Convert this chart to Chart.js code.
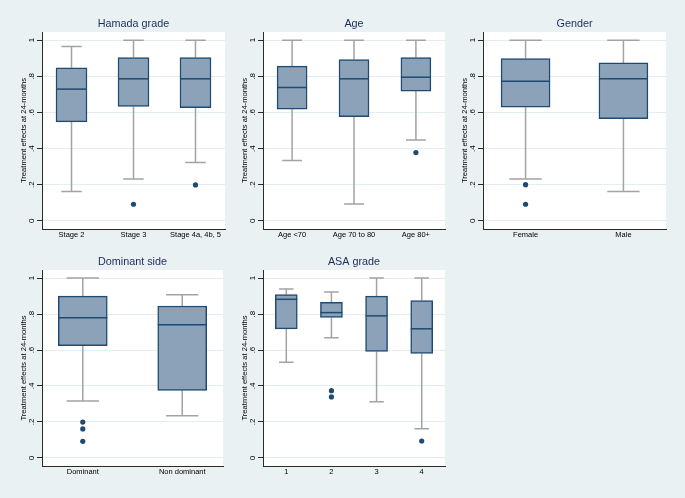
<!DOCTYPE html>
<html>
<head>
<meta charset="utf-8">
<title>Treatment effects box plots</title>
<script src="https://cdn.jsdelivr.net/npm/chart.js@4/dist/chart.umd.min.js"></script>
<style>
  html, body { margin: 0; padding: 0; }
  body { width: 685px; height: 498px; background: #eaf1f3; position: relative; overflow: hidden; }
  .panel { position: absolute; }
</style>
</head>
<body>
<script>
// Hamada grade
var hamadaLabels = ['Stage 2', 'Stage 3', 'Stage 4a, 4b, 5'];
var hamadaLow  = [0.162, 0.232, 0.323];
var hamadaQ1   = [0.548, 0.633, 0.627];
var hamadaMed  = [0.729, 0.786, 0.786];
var hamadaQ3   = [0.847, 0.904, 0.904];
var hamadaHigh = [0.965, 1.0, 1.0];
var hamadaOut  = [[], [0.092], [0.199]];

// Age
var ageLabels = ['Age <70', 'Age 70 to 80', 'Age 80+'];
var ageLow  = [0.334, 0.094, 0.447];
var ageQ1   = [0.618, 0.576, 0.718];
var ageMed  = [0.738, 0.786, 0.795];
var ageQ3   = [0.856, 0.893, 0.904];
var ageHigh = [1.0, 1.0, 1.0];
var ageOut  = [[], [], [0.378]];

// Gender
var genderLabels = ['Female', 'Male'];
var genderLow  = [0.232, 0.162];
var genderQ1   = [0.629, 0.566];
var genderMed  = [0.773, 0.786];
var genderQ3   = [0.898, 0.874];
var genderHigh = [1.0, 1.0];
var genderOut  = [[0.2, 0.092], []];

// Dominant side
var sideLabels = ['Dominant', 'Non dominant'];
var sideLow  = [0.317, 0.234];
var sideQ1   = [0.624, 0.376];
var sideMed  = [0.779, 0.740];
var sideQ3   = [0.900, 0.845];
var sideHigh = [1.0, 0.908];
var sideOut  = [[0.199, 0.161, 0.092], []];

// ASA grade
var asaLabels = ['1', '2', '3', '4'];
var asaLow  = [0.532, 0.668, 0.312, 0.162];
var asaQ1   = [0.718, 0.781, 0.592, 0.581];
var asaMed  = [0.882, 0.808, 0.790, 0.718];
var asaQ3   = [0.908, 0.865, 0.900, 0.875];
var asaHigh = [0.939, 0.923, 1.0, 1.0];
var asaOut  = [[], [0.374, 0.339], [], [0.094]];

var yTicks = [0, 0.2, 0.4, 0.6, 0.8, 1];
var yTickText = ['0', '.2', '.4', '.6', '.8', '1'];
var yTitle = 'Treatment effects at 24-months';

var NAVY = '#1f4a72';
var BOX = '#8ba2b9';
var WHISK = '#a3a3a3';
var GRID = '#e4edf0';
var AXIS = '#2a2a2a';
var TITLE = '#1d2c5b';
var FONT = '"Liberation Sans", Arial, sans-serif';

var AXW = 42;   // space left of plot area
var TOP = 32;   // space above plot area
var XH = 14;    // space below plot area

var panels = [
  {title: 'Hamada grade', labels: hamadaLabels, low: hamadaLow, q1: hamadaQ1, med: hamadaMed, q3: hamadaQ3, high: hamadaHigh, out: hamadaOut,
   l: 42, t: 32, r: 225, b: 229, off: 0.476, bw: 31},
  {title: 'Age', labels: ageLabels, low: ageLow, q1: ageQ1, med: ageMed, q3: ageQ3, high: ageHigh, out: ageOut,
   l: 263, t: 32, r: 445, b: 229, off: 0.47, bw: 30},
  {title: 'Gender', labels: genderLabels, low: genderLow, q1: genderQ1, med: genderMed, q3: genderQ3, high: genderHigh, out: genderOut,
   l: 483, t: 32, r: 666, b: 229, off: 0.435, bw: 49},
  {title: 'Dominant side', labels: sideLabels, low: sideLow, q1: sideQ1, med: sideMed, q3: sideQ3, high: sideHigh, out: sideOut,
   l: 42, t: 270, r: 223, b: 466, off: 0.41, bw: 49},
  {title: 'ASA grade', labels: asaLabels, low: asaLow, q1: asaQ1, med: asaMed, q3: asaQ3, high: asaHigh, out: asaOut,
   l: 263, t: 270, r: 445, b: 466, off: 0.516, bw: 22}
];

// whiskers, caps, medians, titles and rotated y labels
var boxPlugin = {
  id: 'boxParts',
  beforeDraw: function(chart) {
    var a = chart.chartArea, ctx = chart.ctx;
    ctx.save();
    ctx.fillStyle = '#ffffff';
    ctx.fillRect(a.left, a.top, a.right - a.left, a.bottom - a.top);
    ctx.restore();
  },
  beforeDatasetsDraw: function(chart) {
    var p = chart.options.plugins.boxParts.panel;
    var xs = chart.scales.x, ys = chart.scales.y, ctx = chart.ctx;
    var cap = p.bw * 0.66;
    ctx.save();
    ctx.strokeStyle = WHISK;
    ctx.lineWidth = 1.5;
    for (var i = 0; i < p.labels.length; i++) {
      var x = xs.getPixelForValue(i + 1);
      ctx.beginPath();
      ctx.moveTo(x, ys.getPixelForValue(p.high[i]));
      ctx.lineTo(x, ys.getPixelForValue(p.q3[i]));
      ctx.moveTo(x, ys.getPixelForValue(p.q1[i]));
      ctx.lineTo(x, ys.getPixelForValue(p.low[i]));
      ctx.moveTo(x - cap / 2, ys.getPixelForValue(p.high[i]));
      ctx.lineTo(x + cap / 2, ys.getPixelForValue(p.high[i]));
      ctx.moveTo(x - cap / 2, ys.getPixelForValue(p.low[i]));
      ctx.lineTo(x + cap / 2, ys.getPixelForValue(p.low[i]));
      ctx.stroke();
    }
    ctx.restore();
  },
  afterDatasetsDraw: function(chart) {
    var p = chart.options.plugins.boxParts.panel;
    var xs = chart.scales.x, ys = chart.scales.y, ctx = chart.ctx, a = chart.chartArea;
    ctx.save();
    ctx.strokeStyle = NAVY;
    ctx.lineWidth = 1.5;
    for (var i = 0; i < p.labels.length; i++) {
      var x = xs.getPixelForValue(i + 1);
      var y = ys.getPixelForValue(p.med[i]);
      ctx.beginPath();
      ctx.moveTo(x - p.bw / 2, y);
      ctx.lineTo(x + p.bw / 2, y);
      ctx.stroke();
    }
    // title
    ctx.fillStyle = TITLE;
    ctx.font = '10.8px ' + FONT;
    ctx.textAlign = 'center';
    ctx.textBaseline = 'middle';
    ctx.fillText(p.title, (a.left + a.right) / 2, a.top - 8);
    // y tick labels, rotated
    ctx.fillStyle = '#000';
    ctx.font = '8px ' + FONT;
    for (var k = 0; k < yTicks.length; k++) {
      var ty = ys.getPixelForValue(yTicks[k]);
      ctx.save();
      ctx.translate(a.left - 10, ty);
      ctx.rotate(-Math.PI / 2);
      ctx.fillText(yTickText[k], 0, 0);
      ctx.restore();
    }
    // y axis title
    ctx.font = '7.6px ' + FONT;
    ctx.save();
    ctx.translate(a.left - 18.5, (ys.getPixelForValue(0) + ys.getPixelForValue(1)) / 2);
    ctx.rotate(-Math.PI / 2);
    ctx.fillText(yTitle, 0, 0);
    ctx.restore();
    ctx.restore();
  }
};

panels.forEach(function(p) {
  var W = (p.r - p.l) + AXW + 6;
  var H = (p.b - p.t) + TOP + XH;
  var div = document.createElement('div');
  div.className = 'panel';
  div.style.left = (p.l - AXW) + 'px';
  div.style.top = (p.t - TOP) + 'px';
  div.style.width = W + 'px';
  div.style.height = H + 'px';
  var cv = document.createElement('canvas');
  cv.width = W;
  cv.height = H;
  div.appendChild(cv);
  document.body.appendChild(div);

  var n = p.labels.length;
  var outPts = [];
  p.out.forEach(function(vals, i) {
    vals.forEach(function(v) { outPts.push({x: i + 1, y: v}); });
  });

  new Chart(cv, {
    type: 'bar',
    data: {
      datasets: [
        {
          type: 'bar',
          data: p.labels.map(function(l, i) { return {x: i + 1, y: [p.q1[i], p.q3[i]]}; }),
          backgroundColor: BOX,
          borderColor: NAVY,
          borderWidth: 1.5,
          borderSkipped: false,
          barThickness: p.bw,
          order: 2
        },
        {
          type: 'scatter',
          data: outPts,
          pointRadius: 2.6,
          pointBackgroundColor: NAVY,
          pointBorderWidth: 0,
          order: 1
        }
      ]
    },
    options: {
      responsive: false,
      animation: false,
      devicePixelRatio: 1,
      layout: {padding: {top: TOP, left: 0, right: 6, bottom: 0}},
      plugins: {
        legend: {display: false},
        tooltip: {enabled: false},
        boxParts: {panel: p}
      },
      scales: {
        x: {
          type: 'linear',
          offset: false,
          min: 1 - p.off,
          max: n + p.off,
          afterBuildTicks: function(s) { s.ticks = p.labels.map(function(l, i) { return {value: i + 1}; }); },
          afterFit: function(s) { s.height = XH; },
          ticks: {
            callback: function(v) { return p.labels[v - 1]; },
            font: {family: FONT, size: 7.5},
            color: '#000',
            padding: 1,
            maxRotation: 0,
            autoSkip: false
          },
          grid: {display: false, drawTicks: false},
          border: {color: AXIS, width: 1}
        },
        y: {
          min: -0.045,
          max: 1.045,
          afterBuildTicks: function(s) { s.ticks = yTicks.map(function(v) { return {value: v}; }); },
          afterFit: function(s) { s.width = AXW; },
          ticks: {display: false},
          grid: {color: GRID, lineWidth: 1, drawTicks: true, tickLength: 5, tickColor: AXIS},
          border: {color: AXIS, width: 1}
        }
      }
    },
    plugins: [boxPlugin]
  });
});
</script>
</body>
</html>
